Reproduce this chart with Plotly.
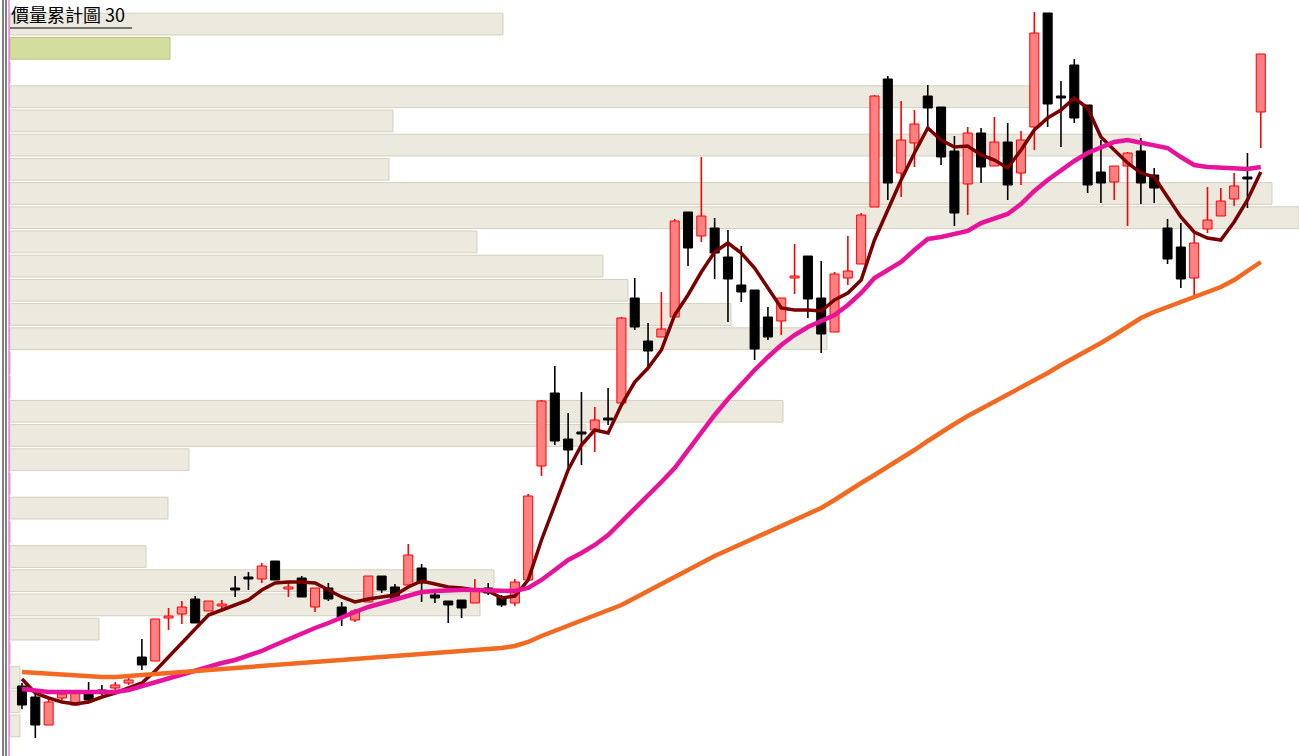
import plotly.graph_objects as go

# ---------------- data (prices) ----------------
opens = [31.4, 30.3, 27.5, 30.2, 29.5, 30.7, 31.0, 31.2, 31.7, 34.3,
         33.9, 38.2, 38.6, 40.1, 38.9, 39.4, 41.2, 42.3, 42.1, 43.9,
         41.1, 42.2, 39.3, 41.2, 39.3, 38.0, 39.8, 42.4, 41.3, 41.5,
         43.2, 40.5, 39.9, 40.0, 39.7, 41.2, 40.3, 39.7, 42.0, 53.4,
         60.7, 56.1, 56.8, 57.0, 58.2, 59.7, 70.2, 65.9, 66.3, 68.3,
         78.8, 76.4, 77.2, 74.3, 71.5, 71.0, 68.3, 67.9, 72.2, 74.4,
         70.2, 66.8, 72.2, 73.6, 79.3, 92.1, 82.7, 85.7, 90.4, 89.3,
         84.9, 81.6, 86.7, 83.4, 85.8, 82.7, 87.3, 98.7, 90.4, 93.5,
         89.5, 82.8, 81.8, 83.4, 84.9, 82.5, 77.2, 75.3, 72.2, 77.1,
         78.4, 80.1, 82.3, 88.8]
highs = [31.7, 30.6, 30.0, 31.0, 30.9, 31.8, 31.5, 31.8, 32.3, 36.1,
         38.1, 39.2, 39.9, 40.4, 39.9, 40.0, 42.4, 42.8, 43.7, 43.9,
         41.7, 42.4, 41.2, 41.7, 39.8, 39.1, 42.4, 42.4, 41.6, 45.6,
         43.6, 40.7, 39.9, 40.0, 42.1, 41.7, 40.5, 42.1, 50.6, 60.0,
         63.4, 58.7, 60.8, 59.3, 61.2, 68.3, 72.2, 67.7, 70.8, 78.1,
         78.8, 84.3, 78.2, 77.0, 75.4, 71.0, 69.3, 70.2, 75.6, 74.4,
         73.9, 72.8, 76.4, 78.7, 90.5, 92.4, 89.9, 89.0, 91.5, 89.3,
         86.4, 87.3, 87.2, 88.3, 87.7, 86.9, 98.8, 98.7, 91.9, 94.1,
         89.5, 86.0, 83.4, 84.8, 86.2, 83.2, 78.1, 77.7, 76.7, 81.3,
         81.2, 82.7, 84.7, 94.6]
lows = [29.1, 26.2, 27.5, 30.0, 29.5, 29.8, 30.5, 31.0, 31.5, 33.0,
        33.9, 37.0, 37.6, 37.7, 38.9, 39.0, 40.3, 41.0, 41.7, 42.0,
        40.3, 40.3, 38.8, 39.9, 37.4, 37.8, 39.8, 40.7, 40.1, 41.5,
        39.8, 39.7, 37.7, 38.2, 39.7, 40.5, 39.3, 39.4, 42.0, 52.4,
        55.5, 53.0, 53.5, 54.8, 57.5, 59.7, 67.0, 63.3, 66.3, 68.3,
        73.4, 75.8, 72.1, 67.8, 69.8, 64.0, 66.0, 66.5, 70.6, 68.2,
        64.7, 66.8, 71.5, 73.6, 79.3, 80.0, 80.3, 83.3, 87.0, 83.5,
        77.4, 78.5, 81.7, 83.4, 80.0, 81.5, 85.0, 87.3, 85.3, 87.7,
        80.7, 79.7, 80.0, 77.4, 79.6, 79.7, 73.6, 71.2, 70.2, 76.7,
        78.4, 79.4, 79.2, 85.2]
closes = [29.5, 27.5, 29.8, 30.6, 30.7, 30.0, 30.7, 31.5, 32.0, 33.5,
          38.1, 38.4, 39.3, 37.7, 39.9, 39.6, 41.0, 42.1, 43.4, 42.0,
          41.3, 40.3, 41.2, 40.1, 38.3, 38.9, 42.4, 41.0, 40.1, 44.5,
          41.7, 40.2, 39.5, 39.2, 41.0, 40.7, 39.5, 41.8, 50.4, 59.9,
          55.9, 55.0, 56.6, 58.0, 58.0, 68.2, 67.3, 64.9, 67.1, 77.9,
          75.2, 78.4, 74.7, 72.1, 70.8, 65.1, 66.3, 70.2, 72.4, 70.1,
          66.6, 72.6, 72.9, 78.5, 90.4, 81.7, 86.0, 87.6, 89.2, 84.3,
          78.7, 86.7, 83.3, 85.8, 81.5, 86.0, 96.7, 89.6, 90.2, 88.2,
          81.5, 81.7, 83.4, 84.7, 81.7, 81.2, 74.1, 72.1, 75.7, 78.0,
          79.9, 81.4, 82.1, 94.6]

ma_short = [32.1, 30.7, 30.2, 29.8, 29.6, 29.8, 30.3, 30.7, 31.2, 31.7,
            32.9, 34.3, 35.7, 37.2, 38.5, 39.0, 39.5, 40.0, 41.0, 41.7,
            41.8, 41.8, 41.7, 41.0, 40.3, 39.8, 40.1, 40.3, 40.5, 41.3,
            41.9, 41.6, 41.3, 41.2, 41.0, 40.9, 40.2, 40.4, 42.0, 46.0,
            49.5, 53.0, 55.5, 57.0, 56.7, 59.5, 61.8, 63.2, 65.0, 68.5,
            70.5, 72.8, 74.8, 75.7, 74.7, 73.2, 71.2, 69.2, 69.0, 69.0,
            68.9, 70.0, 70.7, 72.0, 76.0, 79.0, 82.0, 84.7, 87.2, 86.0,
            85.3, 85.4, 84.5, 84.0, 83.2, 85.0, 87.0, 88.2, 89.0, 90.2,
            89.2, 86.3, 85.0, 83.7, 82.7, 82.3, 80.3, 78.3, 76.8, 76.2,
            76.0, 77.8, 80.0, 82.8]
ma_mid = [31.1, 30.9, 30.8, 30.8, 30.8, 30.8, 30.8, 30.8, 31.0, 31.4,
          31.8, 32.2, 32.6, 33.0, 33.3, 33.7, 34.0, 34.4, 34.9, 35.5,
          36.1, 36.7, 37.2, 37.7, 38.3, 38.8, 39.3, 39.7, 40.1, 40.5,
          40.8, 40.9, 41.0, 41.0, 41.0, 41.0, 40.9, 40.9, 41.2, 42.0,
          43.0, 44.0, 44.7, 45.5, 46.5, 47.8, 49.1, 50.5, 51.8, 53.2,
          55.0, 56.8, 58.5, 60.1, 61.6, 63.0, 64.3, 65.5, 66.5, 67.3,
          67.9, 68.5, 69.5, 70.7, 72.2, 73.0, 73.8, 75.0, 76.1, 76.3,
          76.6, 76.9, 77.7, 78.2, 78.6, 79.6, 80.9, 82.0, 83.0, 83.9,
          84.7, 85.3, 85.8, 86.0, 85.7, 85.5, 85.2, 84.3, 83.5, 83.3,
          83.2, 83.1, 83.1, 83.3]
ma_long = [32.8, 32.7, 32.6, 32.5, 32.4, 32.3, 32.3, 32.3, 32.4, 32.5,
           32.6, 32.7, 32.8, 32.9, 33.0, 33.1, 33.2, 33.3, 33.4, 33.5,
           33.6, 33.7, 33.8, 33.9, 34.0, 34.1, 34.2, 34.3, 34.4, 34.4,
           34.5, 34.6, 34.7, 34.8, 34.9, 35.0, 35.2, 35.4, 35.8, 36.4,
           36.9, 37.4, 37.9, 38.4, 38.9, 39.5, 40.2, 40.9, 41.6, 42.3,
           43.1, 43.7, 44.4, 45.0, 45.6, 46.1, 46.7, 47.3, 47.9, 48.5,
           49.2, 50.0, 50.9, 51.7, 52.5, 53.3, 54.1, 55.0, 55.9, 56.8,
           57.6, 58.4, 59.1, 59.8, 60.5, 61.2, 62.0, 62.7, 63.5, 64.2,
           64.9, 65.7, 66.5, 67.4, 68.2, 68.8, 69.3, 69.8, 70.3, 70.8,
           71.3, 72.0, 72.9, 73.8]

# accumulated volume per price bin (30 bins, lowest price bin first)
profile_volume = [100, 100, 100, 0, 890, 4700, 4840, 1360, 0, 1580,
                  0, 1790, 5760, 7730, 0, 0, 8170, 7210, 6180, 5930,
                  4670, 12890, 12620, 3790, 11300, 3830, 10200, 0, 1600, 4930]

title_text = "價量累計圖 30"

# ---------------- derived ----------------
n = len(opens)
idx = list(range(n))
nbins = len(profile_volume)
pmin, pmax = min(lows), max(highs)
step = (pmax - pmin) / nbins
bin_centers = [pmin + (k + 0.5) * step for k in range(nbins)]
last_close = closes[-1]
cur_bin = min(int((last_close - pmin) / step), nbins - 1)

bar_fill = ['#D3DE9E' if k == cur_bin else '#ECE9DF' for k in range(nbins)]
bar_edge = ['#B7C186' if k == cur_bin else '#D4CFBF' for k in range(nbins)]

fig = go.Figure()

# volume-by-price bars (base axis, drawn underneath)
fig.add_trace(go.Bar(
    x=profile_volume, y=bin_centers, orientation='h', width=step * 0.9,
    marker=dict(color=bar_fill, line=dict(color=bar_edge, width=1)),
    xaxis='x', yaxis='y', hoverinfo='skip'))

# candles
up = [c >= o for o, c in zip(opens, closes)]
MINB = 0.2
for is_up, fill, edge in [(True, '#FF8080', '#FF0000'), (False, '#000000', '#000000')]:
    sel = [i for i in idx if up[i] == is_up]
    base = [min(opens[i], closes[i]) for i in sel]
    hgt = [max(abs(closes[i] - opens[i]), MINB) for i in sel]
    fig.add_trace(go.Bar(
        x=sel, y=hgt, base=base, width=0.68,
        marker=dict(color=fill, line=dict(color=edge, width=1)),
        xaxis='x2', yaxis='y', hoverinfo='skip'))

for is_up, col in [(True, '#FF0000'), (False, '#000000')]:
    wx, wy = [], []
    for i in idx:
        if up[i] != is_up:
            continue
        top = max(opens[i], closes[i])
        bot = min(opens[i], closes[i])
        if highs[i] > top:
            wx += [i, i, None]
            wy += [top, highs[i], None]
        if lows[i] < bot:
            wx += [i, i, None]
            wy += [bot, lows[i], None]
    fig.add_trace(go.Scatter(x=wx, y=wy, mode='lines',
                             line=dict(color=col, width=1.6),
                             xaxis='x2', yaxis='y', hoverinfo='skip'))

# moving averages
for series, col, w in [(ma_short, '#7A0000', 3.5), (ma_mid, '#E8139B', 4.5), (ma_long, '#F26A22', 4.5)]:
    fig.add_trace(go.Scatter(x=idx, y=series, mode='lines',
                             line=dict(color=col, width=w),
                             xaxis='x2', yaxis='y', hoverinfo='skip'))

W, H = 1299, 756
vmax = max(profile_volume)
origin_px = 10
fig.update_layout(
    width=W, height=H,
    margin=dict(l=0, r=0, t=0, b=0),
    paper_bgcolor='white', plot_bgcolor='white',
    showlegend=False, barmode='overlay',
    xaxis=dict(range=[-vmax * origin_px / (W - origin_px), vmax], visible=False, fixedrange=True),
    xaxis2=dict(range=[-1.652, 95.87], overlaying='x', visible=False, fixedrange=True),
    yaxis=dict(range=[24.4, 100], visible=False, fixedrange=True),
    annotations=[dict(
        text=title_text, xref='paper', yref='paper', x=origin_px / W, y=1.0,
        xanchor='left', yanchor='top', showarrow=False, borderpad=0,
        font=dict(family='Noto Sans CJK TC', size=18, color='#000000'))],
    shapes=[
        dict(type='line', xref='paper', yref='paper', x0=origin_px / W, x1=132 / W,
             y0=1 - 28 / H, y1=1 - 28 / H, line=dict(color='#000000', width=1)),
        dict(type='line', xref='paper', yref='paper', x0=3 / W, x1=3 / W, y0=0, y1=1,
             line=dict(color='#000000', width=1)),
        dict(type='line', xref='paper', yref='paper', x0=6 / W, x1=6 / W, y0=0, y1=1,
             line=dict(color='#000000', width=1)),
        dict(type='line', xref='paper', yref='paper', x0=9 / W, x1=9 / W, y0=0, y1=1,
             line=dict(color='#E040E0', width=1)),
    ],
)

fig.write_html("out.html", config={'displayModeBar': False},
               post_script="document.body.style.margin='0px';")
